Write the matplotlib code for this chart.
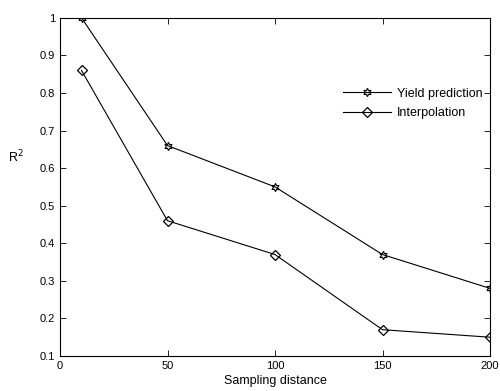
import matplotlib
matplotlib.use("Agg")
import matplotlib.pyplot as plt

plt.rcParams["font.family"] = ["Liberation Sans", "DejaVu Sans"]
plt.rcParams["font.size"] = 8

# --- Data ---
distance = [10, 50, 100, 150, 200]
yield_pred = [1.0, 0.66, 0.55, 0.37, 0.28]
interpolation = [0.86, 0.46, 0.37, 0.17, 0.15]

x_ticks = [0, 50, 100, 150, 200]
y_ticks = [0.1, 0.2, 0.3, 0.4, 0.5, 0.6, 0.7, 0.8, 0.9, 1]
y_tick_labels = ["0.1", "0.2", "0.3", "0.4", "0.5", "0.6", "0.7", "0.8", "0.9", "1"]

fig = plt.figure(figsize=(5, 3.91), dpi=100)
ax = fig.add_axes([0.12, 0.0895, 0.86, 0.865])

ax.plot(distance, yield_pred, color="black", lw=0.8, marker=(6, 1, 0),
        markersize=6, markerfacecolor="none", markeredgewidth=0.8,
        label="Yield prediction")
ax.plot(distance, interpolation, color="black", lw=0.8, marker="D",
        markersize=5, markerfacecolor="none", markeredgewidth=0.9,
        label="Interpolation")

ax.set_xlim(0, 200)
ax.set_ylim(0.1, 1)
ax.set_xticks(x_ticks)
ax.set_yticks(y_ticks)
ax.set_yticklabels(y_tick_labels)
ax.tick_params(direction="in", top=True, right=True, length=4, width=0.6, pad=3.5)
for s in ax.spines.values():
    s.set_linewidth(0.8)

ax.set_xlabel("Sampling distance", fontsize=9, labelpad=3)
ax.set_ylabel("R$^2$", fontsize=9, rotation=0, ha="center", va="center")
ax.yaxis.set_label_coords(-0.102, 0.589)

leg = ax.legend(loc="center left", bbox_to_anchor=(0.658, 0.747), frameon=False,
                fontsize=9, handlelength=3.85, handletextpad=0.5, labelspacing=0.6,
                borderaxespad=0, borderpad=0)

fig.savefig("out.png", dpi=100)
